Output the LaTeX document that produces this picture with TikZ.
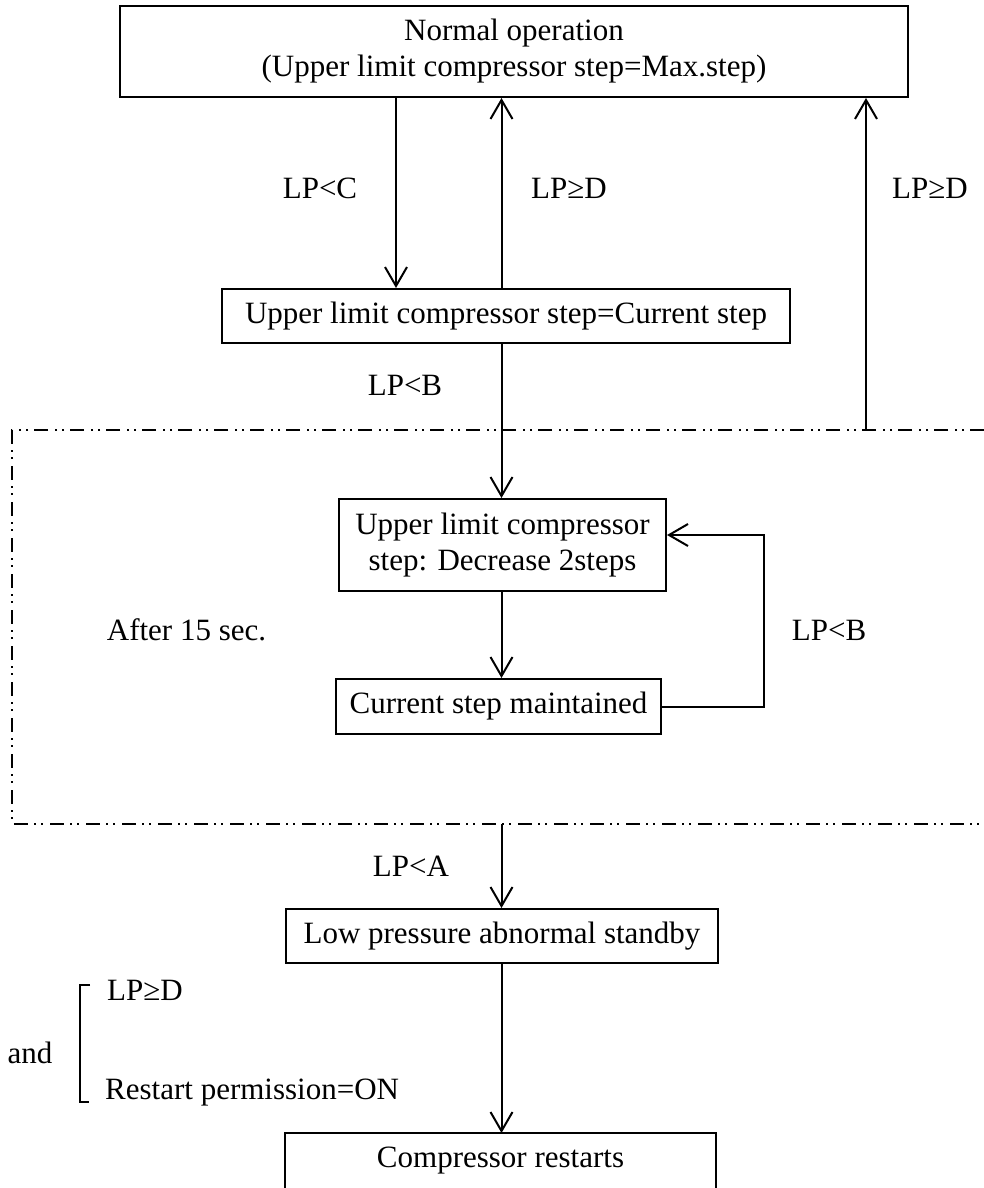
\documentclass[tikz,border=0pt]{standalone}
\usepackage{fontspec}
\setmainfont{Liberation Serif}
\usetikzlibrary{arrows.meta}
\begin{document}
\begin{tikzpicture}[x=1pt,y=-1pt,
  box/.style={draw, line width=2pt, inner sep=0pt, align=center, font=\fontsize{31}{36}\selectfont},
  lbl/.style={inner sep=0pt, font=\fontsize{31}{36}\selectfont},
  arr/.style={line width=2pt, -{Straight Barb[length=19pt,width=22pt,line width=2pt]}},
  ddot/.style={line width=1.5pt, dash pattern=on 14pt off 6pt on 2pt off 5pt on 2pt off 7pt},
  brk/.style={line width=1.6pt}]
\useasboundingbox (0,0) rectangle (984,1188);

% boxes
\node[box, minimum width=788, minimum height=91] (top) at (514,51.5)
  {Normal operation\\(Upper limit compressor step=Max.step)};
\node[box, minimum width=568, minimum height=54] (box2) at (506,316)
  {Upper limit compressor step=Current step};
\node[box, minimum width=327, minimum height=92] (box3) at (502.5,545)
  {Upper limit compressor\\step: Decrease 2steps};
\node[box, minimum width=325, minimum height=55] (box4) at (498.5,706.5)
  {Current step maintained};
\node[box, minimum width=432, minimum height=54] (box5) at (502,936)
  {Low pressure abnormal standby};
\node[box, draw=none, minimum width=429, minimum height=54] (box6) at (500.5,1161)
  {Compressor restarts};
\draw[line width=2pt] (box6.south west) -- (box6.north west) -- (box6.north east) -- (box6.south east);

% dash-dot-dot region
\draw[ddot] (984,430) -- (12,430) -- (12,824) -- (984,824);

% helper coordinates
\coordinate (xl) at (396,0);
\coordinate (xm) at (501.5,0);
\coordinate (xr) at (866,0);
\coordinate (rt) at (866,430);
\coordinate (db) at (501.5,824);
\coordinate (fb) at (764,535);

% connectors
\draw[arr] (top.south -| xl) -- (box2.north -| xl);
\draw[arr] (box2.north -| xm) -- (top.south -| xm);
\draw[arr] (rt) -- (top.south -| xr);
\draw[arr] (box2.south -| xm) -- (box3.north -| xm);
\draw[arr] (box3.south -| xm) -- (box4.north -| xm);
\draw[arr] (box4.east) -| (fb) -- (box3.east |- fb);
\draw[arr] (db) -- (box5.north -| xm);
\draw[arr] (box5.south -| xm) -- (box6.north -| xm);

% labels
\node[lbl] (lpc) at (320,188) {LP<C};
\node[lbl] (lpd1) at (569,188) {LP≥D};
\node[lbl] (lpd2) at (930,188) {LP≥D};
\node[lbl] (lpb1) at (405,385) {LP<B};
\node[lbl] (after) at (186.5,630) {After 15 sec.};
\node[lbl] (lpb2) at (829,630) {LP<B};
\node[lbl] (lpa) at (411,866) {LP<A};

% bracket condition
\draw[brk] (90,985) -- (80,985) -- (80,1102) -- (89,1102);
\node[lbl, anchor=west] (lpd3) at (107,990) {LP≥D};
\node[lbl] (and) at (30,1053) {and};
\node[lbl, anchor=west] (rp) at (105,1093) {Restart permission=ON};
\end{tikzpicture}
\end{document}
